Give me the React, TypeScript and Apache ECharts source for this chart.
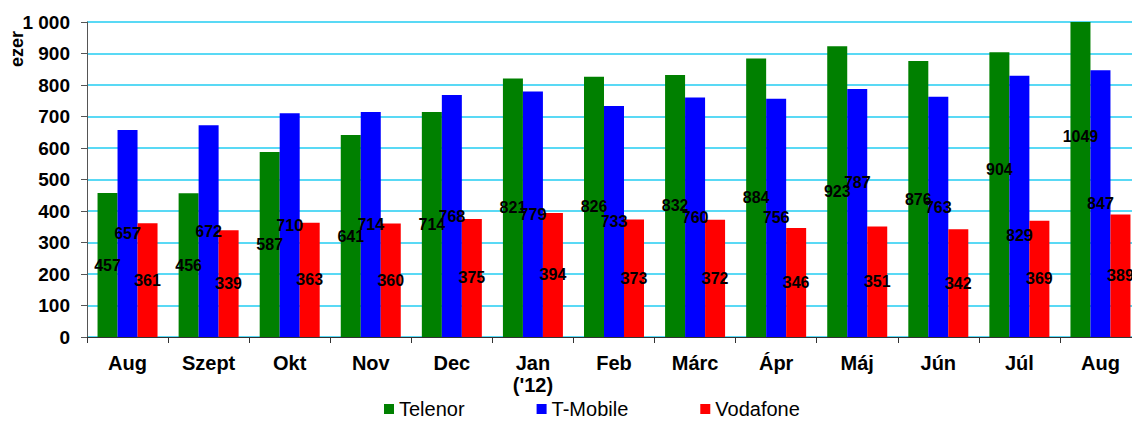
import React, { useEffect, useRef } from "react";
import * as echarts from "echarts";

const categories = ["Aug", "Szept", "Okt", "Nov", "Dec", "Jan\n('12)", "Feb", "Márc", "Ápr", "Máj", "Jún", "Júl", "Aug"];
const telenor = [457, 456, 587, 641, 714, 821, 826, 832, 884, 923, 876, 904, 1049];
const tmobile = [657, 672, 710, 714, 768, 779, 733, 760, 756, 787, 763, 829, 847];
const vodafone = [361, 339, 363, 360, 375, 394, 373, 372, 346, 351, 342, 369, 389];
const seriesNames = ["Telenor", "T-Mobile", "Vodafone"];
const seriesColors = ["#008000", "#0000ff", "#ff0000"];

// label nudges (px) for labels that sit off-centre in the reference
const labelNudges: Record<string, number> = {
  "0:11": -25,
  "0:12": -43,
  "1:9": -31,
  "1:10": -9,
  "1:11": 29,
};

const FONT = '"Liberation Sans", Arial, sans-serif';

function fmt(v: number) {
  return String(v).replace(/\B(?=(\d{3})+(?!\d))/g, " ");
}

export default function App() {
  const ref = useRef<HTMLDivElement>(null);
  useEffect(() => {
    if (!ref.current) return;
    const chart = echarts.init(ref.current, undefined, { renderer: "svg" });
    const all = [telenor, tmobile, vodafone];
    chart.setOption({
      animation: false,
      backgroundColor: "#ffffff",
      textStyle: { fontFamily: FONT },
      grid: { left: 87, top: 22, width: 1054, height: 315 },
      legend: {
        left: 382,
        top: 397,
        padding: 2,
        itemWidth: 10,
        itemHeight: 10,
        itemGap: 72,
        icon: "rect",
        textStyle: { fontFamily: FONT, fontSize: 20, color: "#000", lineHeight: 20 },
        data: seriesNames,
      },
      graphic: [
        {
          type: "text",
          x: 17,
          y: 49,
          rotation: Math.PI / 2,
          style: {
            text: "ezer",
            fontFamily: FONT,
            fontSize: 18,
            fontWeight: "bold",
            fill: "#000",
            textAlign: "center",
            textVerticalAlign: "middle",
          },
        },
      ],
      xAxis: {
        type: "category",
        data: categories,
        axisLine: { lineStyle: { color: "#333", width: 1 } },
        axisTick: { show: true, length: 6, lineStyle: { color: "#333" } },
        axisLabel: {
          interval: 0,
          margin: 15,
          fontFamily: FONT,
          fontSize: 20,
          fontWeight: "bold",
          color: "#000",
          lineHeight: 22,
        },
      },
      yAxis: {
        type: "value",
        min: 0,
        max: 1000,
        interval: 100,
        axisLine: { show: true, lineStyle: { color: "#555", width: 1 } },
        axisTick: { show: true, length: 6, lineStyle: { color: "#555" } },
        splitLine: { show: true, lineStyle: { color: "#22ccf2", width: 1.5 } },
        axisLabel: {
          margin: 17,
          fontFamily: FONT,
          fontSize: 19,
          fontWeight: "bold",
          color: "#000",
          formatter: (v: number) => fmt(v),
        },
      },
      series: all.map((vals, si) => ({
        name: seriesNames[si],
        type: "bar",
        barWidth: 20,
        barGap: "0%",
        itemStyle: { color: seriesColors[si] },
        label: {
          show: true,
          position: "inside",
          fontFamily: FONT,
          fontSize: 16,
          fontWeight: "bold",
          color: "#000",
        },
        data: vals.map((v, i) => {
          const dy = labelNudges[si + ":" + i];
          return dy ? { value: v, label: { offset: [0, dy] } } : v;
        }),
      })),
    });
    return () => chart.dispose();
  }, []);
  return (
    <div
      ref={ref}
      style={{ position: "fixed", left: 0, top: 0, width: 1150, height: 423 }}
    />
  );
}
